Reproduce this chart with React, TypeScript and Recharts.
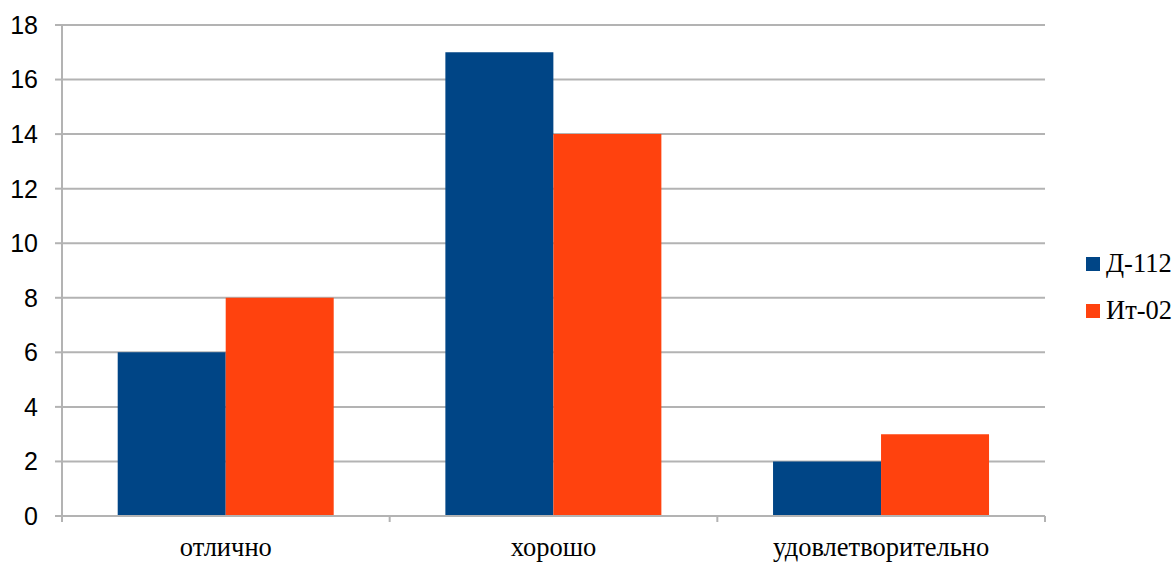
import React from 'react';
import {
  BarChart,
  Bar,
  XAxis,
  YAxis,
  CartesianGrid,
  Legend
} from 'recharts';

const categories = ['отлично', 'хорошо', 'удовлетворительно'];
const seriesNames = ['Д-112', 'Ит-02'];
const d112Values = [6, 17, 2];
const it02Values = [8, 14, 3];
const yTicks = [0, 2, 4, 6, 8, 10, 12, 14, 16, 18];

const COLORS = ['#004586', '#ff420e'];
const GRID = '#b3b3b3';
const SERIF = 'Liberation Serif, Times New Roman, DejaVu Serif, serif';
const SANS = 'Liberation Sans, Arial, Helvetica, sans-serif';

const data = categories.map((name, i) => ({
  name,
  [seriesNames[0]]: d112Values[i],
  [seriesNames[1]]: it02Values[i]
}));

// plot area: x 62..1045, y 25..516
const PLOT_W = 1045 - 62;
const BAND = PLOT_W / categories.length;

const CategoryTick = (props: any) => {
  const { x, y, payload, index } = props;
  const half = payload && payload.offset ? payload.offset : BAND / 2;
  const last = index === categories.length - 1;
  return (
    <g>
      <line x1={x - half} x2={x - half} y1={y} y2={y + 6} stroke={GRID} strokeWidth={2} />
      {last && <line x1={x + half} x2={x + half} y1={y} y2={y + 6} stroke={GRID} strokeWidth={2} />}
      <text
        x={x}
        y={y + 40}
        textAnchor="middle"
        style={{ fill: '#000', fontSize: 26.5, fontFamily: SERIF }}
      >
        {payload.value}
      </text>
    </g>
  );
};

const LegendBox = (props: any) => {
  const { payload } = props;
  return (
    <div style={{ fontFamily: SERIF, fontSize: 26.5, color: '#000' }}>
      {(payload || []).map((entry: any) => (
        <div key={entry.value} style={{ display: 'flex', alignItems: 'center', height: 47 }}>
          <span
            style={{
              display: 'inline-block',
              width: 14,
              height: 14,
              background: entry.color,
              marginRight: 6
            }}
          />
          <span>{entry.value}</span>
        </div>
      ))}
    </div>
  );
};

export default function App() {
  return (
    <div style={{ position: 'absolute', left: 0, top: 0, width: 1174, height: 562, background: '#fff' }}>
      <BarChart
        width={1174}
        height={562}
        data={data}
        margin={{ top: 25, right: 129, bottom: 0, left: 0 }}
        barCategoryGap="17%"
        barGap={0}
      >
        <CartesianGrid vertical={false} stroke={GRID} strokeWidth={2} />
        <XAxis
          dataKey="name"
          height={46}
          axisLine={{ stroke: GRID, strokeWidth: 2 }}
          tickLine={false}
          tickSize={0}
          tickMargin={0}
          interval={0}
          tick={<CategoryTick />}
        />
        <YAxis
          width={62}
          domain={[0, 18]}
          ticks={yTicks}
          interval={0}
          axisLine={{ stroke: GRID, strokeWidth: 2 }}
          tickLine={{ stroke: GRID, strokeWidth: 2 }}
          tickSize={7}
          tickMargin={17}
          tick={{ fill: '#000', fontSize: 25, fontFamily: SANS }}
        />
        <Legend
          layout="vertical"
          align="center"
          verticalAlign="middle"
          content={<LegendBox />}
          wrapperStyle={{ left: 1086, top: 240, width: 'auto', height: 'auto' }}
        />
        <Bar dataKey={seriesNames[0]} fill={COLORS[0]} isAnimationActive={false} />
        <Bar dataKey={seriesNames[1]} fill={COLORS[1]} isAnimationActive={false} />
      </BarChart>
    </div>
  );
}
